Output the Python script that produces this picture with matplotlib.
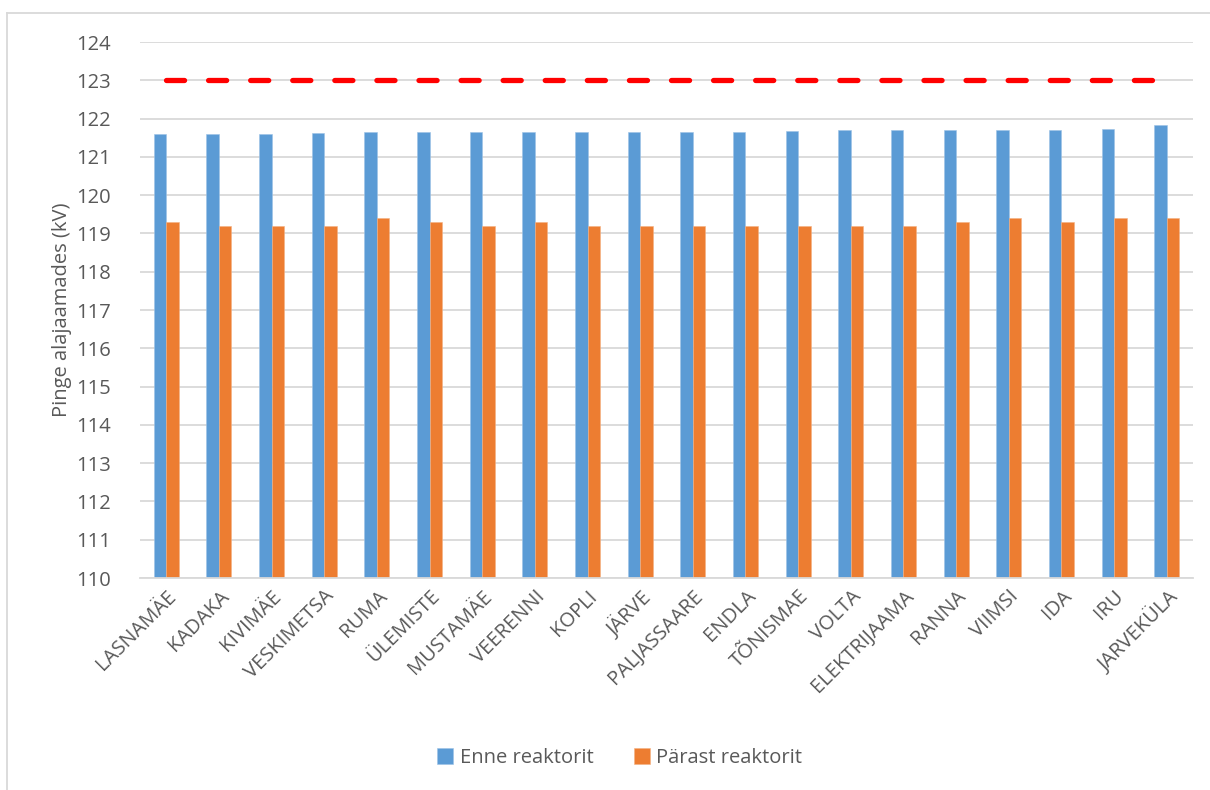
import matplotlib
matplotlib.use("Agg")
from matplotlib import pyplot as plt
from matplotlib.lines import Line2D
import numpy as np

plt.rcParams['font.family'] = ['Open Sans', 'DejaVu Sans']
plt.rcParams['lines.scale_dashes'] = False

stations = ['LASNAMÄE', 'KADAKA', 'KIVIMÄE', 'VESKIMETSA', 'RUMA', 'ÜLEMISTE',
            'MUSTAMÄE', 'VEERENNI', 'KOPLI', 'JÄRVE', 'PALJASSAARE', 'ENDLA',
            'TÕNISMAE', 'VOLTA', 'ELEKTRIJAAMA', 'RANNA', 'VIIMSI', 'IDA',
            'IRU', 'JARVEKÜLA']
enne = [121.61, 121.61, 121.61, 121.62, 121.64, 121.64, 121.64, 121.65, 121.65, 121.65,
        121.66, 121.66, 121.67, 121.69, 121.69, 121.70, 121.71, 121.71, 121.74, 121.82]
parast = [119.3, 119.2, 119.2, 119.2, 119.4, 119.3, 119.2, 119.3, 119.2, 119.2,
          119.2, 119.2, 119.2, 119.2, 119.2, 119.3, 119.4, 119.3, 119.4, 119.4]
piir = [123] * len(stations)

text_col = '#595959'
grid_col = '#d9d9d9'

fig = plt.figure(figsize=(12.1, 7.9), dpi=100)
ax = fig.add_axes([140 / 1210, 1 - 578 / 790, (1193 - 140) / 1210, (578 - 42) / 790])

x = np.arange(len(stations))
w = 0.237
ax.bar(x - w / 2, np.array(enne) - 110, w, bottom=110, color='#5B9BD5',
       edgecolor='#9dc3e6', linewidth=0.4, label='Enne reaktorit', zorder=2)
ax.bar(x + w / 2, np.array(parast) - 110, w, bottom=110, color='#ED7D31',
       edgecolor='#f4b183', linewidth=0.4, label='Pärast reaktorit', zorder=2)
ax.plot(x, piir, color='#FF0000', linewidth=3.8, linestyle=(0, (13, 17.3)),
        dash_capstyle='round', zorder=3)

ax.set_xlim(-0.5, len(stations) - 0.5)
ax.set_ylim(110, 124)
ax.set_yticks(np.arange(110, 125, 1))
ax.yaxis.grid(True, color=grid_col, linewidth=1.3, zorder=0)
ax.set_axisbelow(True)
for s in ['top', 'right', 'left']:
    ax.spines[s].set_visible(False)
ax.spines['bottom'].set_color(grid_col)
ax.spines['bottom'].set_linewidth(1.3)
ax.tick_params(axis='both', length=0, labelsize=14.5, colors=text_col)
ax.tick_params(axis='y', pad=21)
ax.set_xticks(x)
ax.set_xticklabels(stations, rotation=45, ha='right', rotation_mode='anchor')
ax.tick_params(axis='x', pad=6)
ax.set_ylabel('Pinge alajaamades (kV)', fontsize=14.5, color=text_col, labelpad=3)

fig.legend(loc='center', bbox_to_anchor=(0.512, 0.0405), ncol=2, frameon=False,
           fontsize=14.5, labelcolor=text_col, handlelength=0.8, handleheight=0.8,
           handletextpad=0.3, columnspacing=2.0)

# chart area border
fig.add_artist(Line2D([7 / 1210, 7 / 1210], [0, 1 - 13 / 790], color=grid_col, linewidth=1.3))
fig.add_artist(Line2D([7 / 1210, 1], [1 - 13 / 790, 1 - 13 / 790], color=grid_col, linewidth=1.3))

fig.savefig('out.png', dpi=100, facecolor='white')
